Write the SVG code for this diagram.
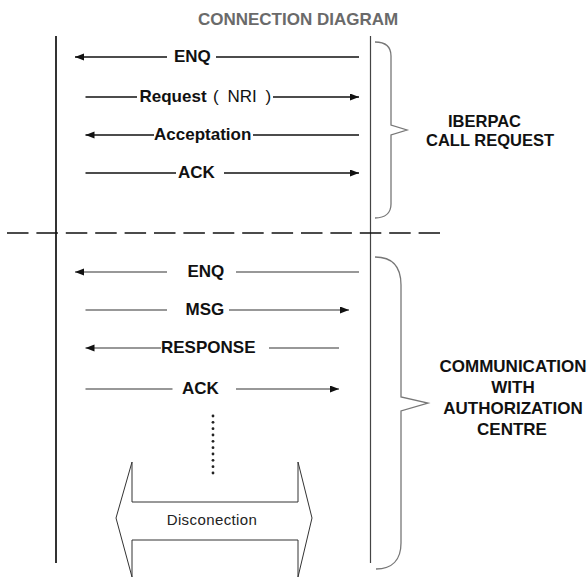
<svg xmlns="http://www.w3.org/2000/svg" width="588" height="579" viewBox="0 0 588 579">
  <style>
    .title { font-family: "Liberation Sans", Arial, sans-serif; font-weight: bold; font-size: 17px; fill: #6a6a6a; }
    .msg { font-family: "Liberation Sans", Arial, sans-serif; font-weight: bold; font-size: 17px; fill: #111; }
    .msg-reg { font-family: "Liberation Sans", Arial, sans-serif; font-weight: normal; font-size: 17px; fill: #111; word-spacing: 4px; }
    .side { font-family: "Liberation Sans", Arial, sans-serif; font-weight: bold; font-size: 16.5px; fill: #111; }
    .disc { font-family: "Liberation Sans", Arial, sans-serif; font-size: 15px; fill: #222; letter-spacing: 0.4px; }
    .wire-top { stroke: #111; stroke-width: 1.4; fill: none; }
    .wire-bot { stroke: #333; stroke-width: 1.1; fill: none; }
    .brace { stroke: #777; stroke-width: 1.3; fill: none; }
  </style>
  <defs>
    <marker id="head" markerUnits="userSpaceOnUse" markerWidth="10" markerHeight="8" refX="9" refY="3.5" orient="auto">
      <path d="M0,0 L9,3.5 L0,7 z" fill="#111"/>
    </marker>
  </defs>

  <rect width="588" height="579" fill="#ffffff"/>

  <g id="title">
    <text class="title" x="298" y="25" text-anchor="middle">CONNECTION DIAGRAM</text>
  </g>

  <!-- the two stations -->
  <g id="terminal-line">
    <line x1="56" y1="36" x2="56" y2="563" stroke="#333" stroke-width="2"/>
  </g>
  <g id="network-line">
    <line x1="370.5" y1="36" x2="370.5" y2="563" stroke="#444" stroke-width="1.2"/>
  </g>

  <!-- phase separator -->
  <g id="separator">
    <line x1="7" y1="233" x2="440" y2="233" stroke="#111" stroke-width="1.5" stroke-dasharray="21.5 7.9"/>
  </g>

  <g id="connectors">
    <!-- IBERPAC call request -->
    <line class="wire-top" x1="167" y1="57" x2="75" y2="57" marker-end="url(#head)"/>
    <line class="wire-top" x1="216" y1="57" x2="359" y2="57"/>
    <line class="wire-top" x1="85.5" y1="97" x2="137" y2="97"/>
    <line class="wire-top" x1="273" y1="97" x2="359" y2="97" marker-end="url(#head)"/>
    <line class="wire-top" x1="154" y1="135" x2="85.5" y2="135" marker-end="url(#head)"/>
    <line class="wire-top" x1="253" y1="135" x2="359" y2="135"/>
    <line class="wire-top" x1="85.5" y1="173" x2="176" y2="173"/>
    <line class="wire-top" x1="224" y1="173" x2="359" y2="173" marker-end="url(#head)"/>
    <!-- communication with authorization centre -->
    <line class="wire-bot" x1="167" y1="272" x2="75" y2="272" marker-end="url(#head)"/>
    <line class="wire-bot" x1="236" y1="272" x2="359" y2="272"/>
    <line class="wire-bot" x1="85.5" y1="310" x2="167" y2="310"/>
    <line class="wire-bot" x1="229" y1="310" x2="349" y2="310" marker-end="url(#head)"/>
    <line class="wire-bot" x1="161" y1="348" x2="85.5" y2="348" marker-end="url(#head)"/>
    <line class="wire-bot" x1="269" y1="348" x2="339" y2="348"/>
    <line class="wire-bot" x1="85.5" y1="389" x2="172.5" y2="389"/>
    <line class="wire-bot" x1="236" y1="389" x2="339" y2="389" marker-end="url(#head)"/>
  </g>

  <g id="label-enq-1"><text class="msg" x="174" y="62">ENQ</text></g>
  <g id="label-request">
    <text class="msg" x="139.5" y="102">Request</text>
    <text class="msg-reg" x="213" y="102">( NRI )</text>
  </g>
  <g id="label-acceptation"><text class="msg" x="154" y="140">Acceptation</text></g>
  <g id="label-ack-1"><text class="msg" x="178" y="178">ACK</text></g>

  <g id="label-enq-2"><text class="msg" x="187.5" y="277">ENQ</text></g>
  <g id="label-msg"><text class="msg" x="185.6" y="315">MSG</text></g>
  <g id="label-response"><text class="msg" x="161" y="353">RESPONSE</text></g>
  <g id="label-ack-2"><text class="msg" x="182" y="394">ACK</text></g>

  <!-- continuation dots -->
  <g id="continuation" fill="#222">
    <circle cx="213" cy="416" r="1.4"/>
    <circle cx="213" cy="422.3" r="1.4"/>
    <circle cx="213" cy="428.7" r="1.4"/>
    <circle cx="213" cy="435" r="1.4"/>
    <circle cx="213" cy="441.3" r="1.4"/>
    <circle cx="213" cy="447.7" r="1.4"/>
    <circle cx="213" cy="454" r="1.4"/>
    <circle cx="213" cy="460.3" r="1.4"/>
    <circle cx="213" cy="466.7" r="1.4"/>
    <circle cx="213" cy="473" r="1.4"/>
  </g>

  <g id="disconnection">
    <polygon points="132,462 132,502 298,502 298,462 312,518 298,577 298,540 132,540 132,577 116,518" fill="#fff" stroke="#333" stroke-width="1"/>
    <text class="disc" x="212" y="525" text-anchor="middle">Disconection</text>
  </g>

  <g id="brace-iberpac">
    <path class="brace" d="M375,42 C386,42 391,47 391,56 L391,125 L407,130 L391,135 L391,204 C391,213 385,218 375,218"/>
    <text class="side" x="448" y="127">IBERPAC</text>
    <text class="side" x="426" y="146">CALL REQUEST</text>
  </g>

  <g id="brace-authorization">
    <path class="brace" d="M375,257 C392,257 401,266 401,285 L401,397 L428,403 L401,411 L401,543 C401,560 392,569 376,569"/>
    <text class="side" x="513" y="372" text-anchor="middle" style="font-size:17px">COMMUNICATION</text>
    <text class="side" x="513" y="393" text-anchor="middle" style="font-size:17px">WITH</text>
    <text class="side" x="513" y="414" text-anchor="middle" style="font-size:17px">AUTHORIZATION</text>
    <text class="side" x="512" y="435" text-anchor="middle" style="font-size:17px">CENTRE</text>
  </g>
</svg>
